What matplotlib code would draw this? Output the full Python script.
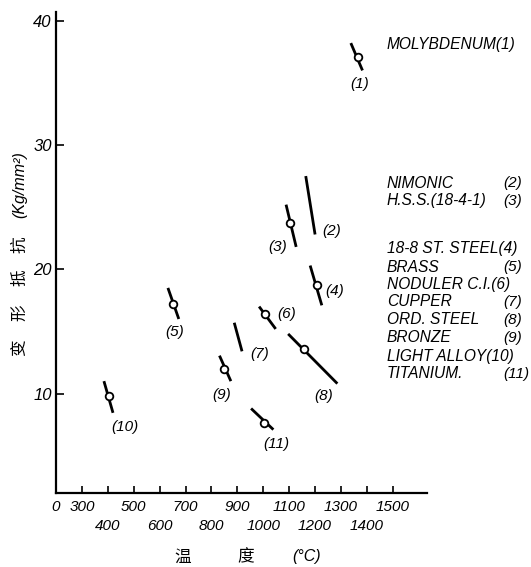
import matplotlib
matplotlib.use("Agg")
import matplotlib.pyplot as plt

# segments: (x_top, y_top) -> (x_bottom, y_bottom), circle at (xc, yc) or None
labels = ["(1)", "(2)", "(3)", "(4)", "(5)", "(6)", "(7)", "(8)", "(9)", "(10)", "(11)"]
x_top = [1338, 1164, 1088, 1181, 632, 984, 888, 1096, 831, 385, 953]
y_top = [38.2, 27.5, 25.2, 20.3, 18.5, 17.0, 15.7, 14.8, 13.05, 11.0, 8.8]
x_bot = [1383, 1200, 1127, 1226, 674, 1048, 918, 1286, 875, 420, 1039]
y_bot = [36.0, 22.8, 21.8, 17.1, 16.0, 15.2, 13.4, 10.8, 11.0, 8.45, 7.1]
x_mid = [1367, None, 1104, 1207, 650, 1008, None, 1159, 850, 404, 1001]
y_mid = [37.1, None, 23.7, 18.7, 17.2, 16.4, None, 13.6, 12.0, 9.8, 7.65]

materials = ["MOLYBDENUM(1)", "NIMONIC", "H.S.S.(18-4-1)", "18-8 ST. STEEL(4)", "BRASS",
             "NODULER C.I.(6)", "CUPPER", "ORD. STEEL", "BRONZE", "LIGHT ALLOY(10)", "TITANIUM."]
mat_nums = ["", "(2)", "(3)", "", "(5)", "", "(7)", "(8)", "(9)", "", "(11)"]

xticks_up = [200, 300, 500, 700, 900, 1100, 1300, 1500]
xlabels_up = ["0", "300", "500", "700", "900", "1100", "1300", "1500"]
xticks_low = [400, 600, 800, 1000, 1200, 1400]
xlabels_low = ["400", "600", "800", "1000", "1200", "1400"]
yticks = [10, 20, 30, 40]

ylabel_chars = ["变", "形", "抵", "抗"]
xlabel_parts = ["温", "度"]

# label offsets in pixels from the anchor point (circle or bottom end)
lab_anchor = ["bot", "bot", "bot", "mid", "bot", "mid", "bot", "bot", "bot", "bot", "bot"]
lab_off = [(-3, -14), (17, 3), (-19, 0), (18, -6), (-4, -13), (21, 0), (18, -3),
           (-14, -12), (-9, -14), (12, -14), (3, -14)]
row_y = [45, 183, 201, 249, 267, 284, 302, 320, 338, 356, 374]

W, H = 531, 567
fig = plt.figure(figsize=(W / 100, H / 100), dpi=100)
ax = fig.add_axes([56 / W, 1 - 493 / H, (427 - 56) / W, (493 - 12) / H])
ax.set_xlim(200, 1632)
ax.set_ylim(2, 40.7)
for s in ["top", "right"]:
    ax.spines[s].set_visible(False)
ax.spines["left"].set_linewidth(1.6)
ax.spines["bottom"].set_linewidth(1.6)

tf = dict(family=["Liberation Sans Narrow", "Liberation Sans", "DejaVu Sans"], style="italic")
ax.set_xticks(xticks_up)
ax.set_xticklabels(xlabels_up, fontsize=11, **tf)
ax.set_xticks(xticks_low, minor=True)
ax.set_xticklabels(xlabels_low, minor=True, fontsize=11, **tf)
ax.set_yticks(yticks)
ax.set_yticklabels([str(v) for v in yticks], fontsize=12, **tf)
ax.tick_params(axis="x", which="major", direction="in", length=5, width=1.2, pad=5)
ax.tick_params(axis="x", which="minor", direction="in", length=5, width=1.2, pad=19)
ax.tick_params(axis="y", direction="in", length=6, width=1.2, pad=3)

for i in range(len(labels)):
    ax.plot([x_top[i], x_bot[i]], [y_top[i], y_bot[i]], color="black", lw=2.0,
            solid_capstyle="butt", zorder=2)
    if x_mid[i] is not None:
        ax.plot(x_mid[i], y_mid[i], "o", ms=5.5, mfc="white", mec="black", mew=1.3, zorder=3)
    if lab_anchor[i] == "mid":
        ax_, ay_ = x_mid[i], y_mid[i]
    else:
        ax_, ay_ = x_bot[i], y_bot[i]
    ax.annotate(labels[i], (ax_, ay_), xytext=lab_off[i], textcoords="offset pixels",
                ha="center", va="center", fontsize=11, **tf)

for i in range(len(materials)):
    fig.text(387 / W, 1 - row_y[i] / H, materials[i], ha="left", va="center", fontsize=11.2, **tf)
    if mat_nums[i]:
        fig.text(503 / W, 1 - row_y[i] / H, mat_nums[i], ha="left", va="center", fontsize=11, **tf)

cjk = ["Noto Sans CJK SC", "DejaVu Sans"]
for ch, yy in zip(ylabel_chars, [348, 313, 278, 245]):
    fig.text(20 / W, 1 - yy / H, ch, rotation=90, ha="center", va="center", fontsize=12, family=cjk)
fig.text(20 / W, 1 - 185 / H, "(Kg/mm²)", rotation=90, ha="center", va="center",
         fontsize=11.5, **tf)
for ch, xx in zip(xlabel_parts, [183, 246]):
    fig.text(xx / W, 1 - 557 / H, ch, ha="center", va="center", fontsize=12, family=cjk)
fig.text(307 / W, 1 - 557 / H, "(°C)", ha="center", va="center", fontsize=11.5, **tf)

fig.savefig("out.png", dpi=100)
